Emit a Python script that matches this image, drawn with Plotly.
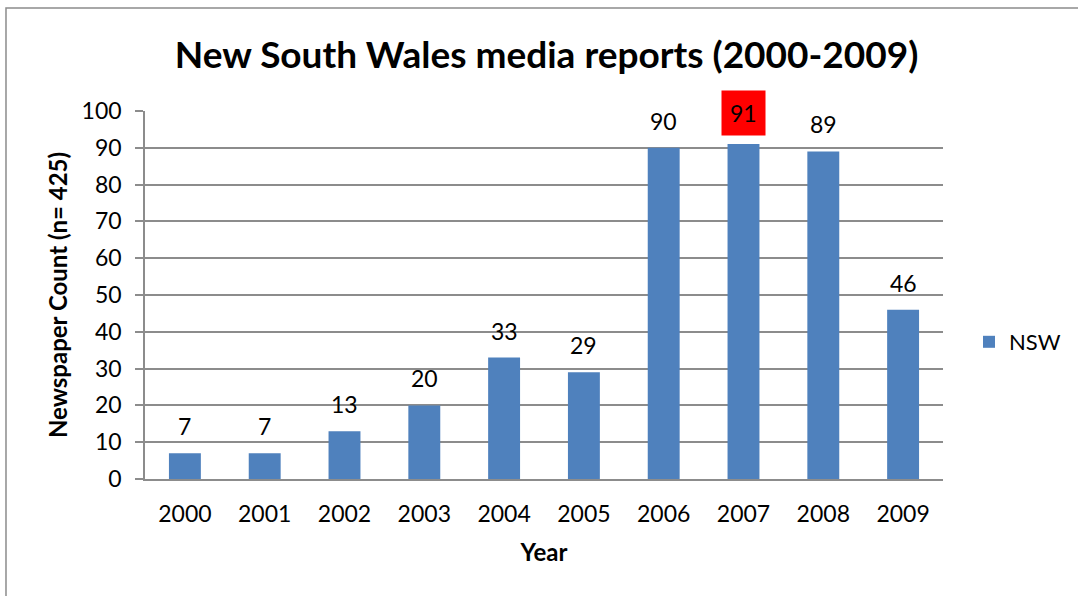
import plotly.graph_objects as go

years = ["2000", "2001", "2002", "2003", "2004", "2005", "2006", "2007", "2008", "2009"]
counts = [7, 7, 13, 20, 33, 29, 90, 91, 89, 46]
highlight_year = "2007"

FONT = "Lato, 'Open Sans', sans-serif"
BAR = "#4F81BD"
GRID = "#8C8C8C"

fig = go.Figure()
fig.add_trace(go.Bar(
    x=years, y=counts, name="NSW",
    marker=dict(color=BAR, line=dict(width=0)),
))

# value labels above each bar (category index positions); the peak year gets a red box
for i, (yr, v) in enumerate(zip(years, counts)):
    hl = yr == highlight_year
    fig.add_annotation(
        x=i, y=v, xref="x", yref="y",
        text=str(v), showarrow=False,
        yanchor="bottom", yshift=12 if not hl else 8,
        font=dict(family=FONT, size=23, color="black"),
        bgcolor="#FF0000" if hl else "rgba(0,0,0,0)",
        borderpad=8 if hl else 0,
    )

# chart frame
fig.add_shape(type="rect", xref="paper", yref="paper",
              x0=-0.1742, x1=1.3, y0=-0.5, y1=1.2799,
              line=dict(color="#8C8C8C", width=1.5), fillcolor="rgba(0,0,0,0)",
              layer="below")

fig.update_layout(
    width=1078, height=596,
    margin=dict(l=145, r=135, t=111, b=117, autoexpand=False),
    paper_bgcolor="white", plot_bgcolor="white",
    bargap=0.6,
    font=dict(family=FONT, size=22, color="black"),
    title=dict(text="<b>New South Wales media reports (2000-2009)</b>",
               x=0.507, xanchor="center", y=1 - 55 / 596, yanchor="middle",
               yref="container", font=dict(family=FONT, size=37, color="black")),
    showlegend=True,
    legend=dict(xref="container", yref="container", x=969 / 1078, y=1 - 342 / 596,
                xanchor="left", yanchor="middle",
                font=dict(family=FONT, size=22, color="black"),
                bgcolor="rgba(0,0,0,0)", itemwidth=30),
    yaxis=dict(range=[0, 100], dtick=10, showgrid=True, gridcolor=GRID, gridwidth=1.5,
               showline=True, linecolor=GRID, linewidth=1.5,
               ticks="outside", ticklen=8, tickcolor=GRID, tickwidth=1.5,
               ticklabelstandoff=9, zeroline=False, automargin=False,
               tickfont=dict(family=FONT, size=23, color="black"),
               title=dict(text="<b>Newspaper Count (n= 425)</b>", standoff=7,
                          font=dict(family=FONT, size=24, color="black"))),
    xaxis=dict(type="category", range=[-0.5, len(years) - 0.5],
               showline=True, linecolor=GRID, linewidth=1.5, ticks="",
               ticklabelstandoff=14, automargin=False,
               tickfont=dict(family=FONT, size=23, color="black"),
               title=dict(text="<b>Year</b>", standoff=18,
                          font=dict(family=FONT, size=24, color="black"))),
)

fig.write_html("out.html")
